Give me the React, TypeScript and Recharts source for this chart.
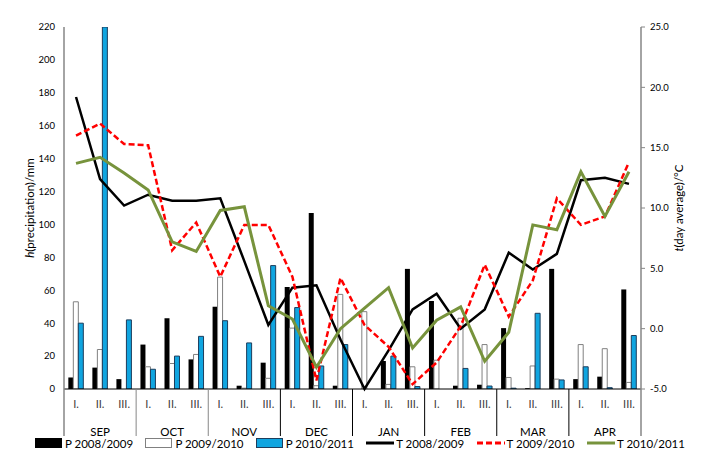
import React from 'react';
import { ComposedChart, Bar, Line, XAxis, YAxis, Legend } from 'recharts';

const months = ['SEP', 'OCT', 'NOV', 'DEC', 'JAN', 'FEB', 'MAR', 'APR'];
const decades = ['I.', 'II.', 'III.'];

const p0809 = [7, 13, 6, 27, 43, 18, 50, 2, 16, 62, 107, 2, 0, 17, 73, 53.5, 2, 2.6, 37, 0.5, 73, 6, 7.5, 60.5];
const p0910 = [53, 24, 0, 13.5, 15.5, 21, 68, 0.5, 6.5, 37, 2, 57.5, 47, 2.8, 13.5, 17.5, 43, 27, 7, 14, 6, 27, 24.5, 4];
const p1011 = [40, 220, 42, 12, 20, 32, 41.5, 28, 75, 49.5, 14, 27, 0, 20, 1.5, 0, 12.5, 1.8, 0.5, 46, 5.5, 13.5, 0.8, 32.5];

const t0809 = [19.2, 12.4, 10.2, 11.1, 10.6, 10.6, 10.8, 5.6, 0.3, 3.4, 3.6, -0.9, -5, -1.8, 1.6, 2.9, 0, 1.6, 6.3, 4.9, 6.2, 12.3, 12.5, 12.0];
const t0910 = [16.0, 17.0, 15.3, 15.2, 6.5, 8.8, 4.3, 8.6, 8.6, 4.3, -4.3, 4.2, 0.3, -1.5, -4.6, -2.8, 0.2, 5.3, 1.0, 4.0, 10.8, 8.6, 9.3, 13.8];
const t1011 = [13.7, 14.2, 12.9, 11.5, 7.2, 6.4, 9.8, 10.1, 1.9, 0.8, -3.2, 0.0, 1.7, 3.4, -1.6, 0.7, 1.8, -2.7, -0.3, 8.6, 8.2, 13.0, 9.3, 13.0];

const precipTicks = [0, 20, 40, 60, 80, 100, 120, 140, 160, 180, 200, 220];
const tempTicks = [-5, 0, 5, 10, 15, 20, 25];

const data = months.flatMap((m, mi) =>
  decades.map((d, di) => {
    const i = mi * 3 + di;
    return {
      key: m + '-' + d,
      month: m,
      decade: d,
      p0809: p0809[i],
      p0910: p0910[i],
      p1011: p1011[i],
      t0809: t0809[i],
      t0910: t0910[i],
      t1011: t1011[i],
    };
  })
);

const W = 707;
const H = 469;
const LEFT = 64;
const RIGHT = 66;
const BAND = (W - LEFT - RIGHT) / data.length;
const FONT = 'Lato, "Noto Sans", sans-serif';

const legendItems = [
  { label: 'P 2008/2009', kind: 'rect', fill: '#000', stroke: '#000' },
  { label: 'P 2009/2010', kind: 'rect', fill: '#fff', stroke: '#808080' },
  { label: 'P 2010/2011', kind: 'rect', fill: '#10a5e0', stroke: '#1d3d5c' },
  { label: 'T 2008/2009', kind: 'line', stroke: '#000', dash: undefined },
  { label: 'T 2009/2010', kind: 'line', stroke: '#ff0000', dash: '6 3' },
  { label: 'T 2010/2011', kind: 'line', stroke: '#77933c', dash: undefined },
];

const CategoryTick = (props: any) => {
  const { x, y, index } = props;
  const row = data[index];
  const lines = [];
  if (index % 3 === 0) {
    const lx = x - BAND / 2;
    lines.push(
      <line key="l" x1={lx} x2={lx} y1={y} y2={y + 47} stroke={index / 3 < 3 ? '#868686' : '#000'} strokeWidth={index === 0 ? 1.5 : 1} />
    );
  }
  if (index === data.length - 1) {
    const rx = x + BAND / 2;
    lines.push(<line key="r" x1={rx} x2={rx} y1={y} y2={y + 47} stroke="#868686" strokeWidth={1.5} />);
  }
  return (
    <g>
      {lines}
      <text x={x} y={y + 19} textAnchor="middle" fontSize={11} fill="#404040" fontFamily={FONT}>
        {row.decade}
      </text>
      {index % 3 === 1 && (
        <text x={x} y={y + 47} textAnchor="middle" fontSize={11.5} fill="#000" fontFamily={FONT}>
          {row.month}
        </text>
      )}
    </g>
  );
};

const LeftTitle = (props: any) => {
  const { viewBox } = props;
  const cx = viewBox.x + 34;
  const cy = viewBox.y + viewBox.height / 2;
  return (
    <text x={cx} y={cy} transform={`rotate(-90 ${cx} ${cy})`} textAnchor="middle" fontSize={11.5} fontFamily={FONT} fill="#000">
      <tspan fontStyle="italic">h</tspan>(precipitation)/mm
    </text>
  );
};

const RightTitle = (props: any) => {
  const { viewBox } = props;
  const cx = viewBox.x + 42;
  const cy = viewBox.y + viewBox.height / 2;
  return (
    <text x={cx} y={cy} transform={`rotate(-90 ${cx} ${cy})`} textAnchor="middle" fontSize={11.5} fontFamily={FONT} fill="#000">
      <tspan fontStyle="italic">t</tspan>(day average)/°C
    </text>
  );
};

const LegendContent = () => (
  <div style={{ position: 'relative', height: 33, width: W, fontFamily: FONT, fontSize: 11.5 }}>
    {legendItems.map((it, i) => (
      <div key={it.label} style={{ position: 'absolute', left: 35 + i * 110.4, top: 0, display: 'flex', alignItems: 'center', height: 14 }}>
        <svg width={28} height={12} style={{ marginRight: 2 }}>
          {it.kind === 'rect' ? (
            <rect x={0.5} y={1.5} width={26} height={9} fill={it.fill} stroke={it.stroke} strokeWidth={1} />
          ) : (
            <line x1={0} x2={28} y1={6} y2={6} stroke={it.stroke} strokeWidth={3} strokeDasharray={it.dash} />
          )}
        </svg>
        <span style={{ color: '#000', whiteSpace: 'nowrap' }}>{it.label}</span>
      </div>
    ))}
  </div>
);

export default function App() {
  return (
    <div style={{ position: 'absolute', left: 0, top: 0, width: W, height: H, background: '#fff' }}>
      <ComposedChart
        width={W}
        height={H}
        data={data}
        margin={{ top: 27, right: 0, bottom: 0, left: 0 }}
        barCategoryGap="18%"
        barGap={0}
      >
        <XAxis
          dataKey="key"
          interval={0}
          height={47}
          tickLine={false}
          tickSize={0}
          tickMargin={0}
          axisLine={{ stroke: '#000', strokeWidth: 1 }}
          tick={<CategoryTick />}
        />
        <YAxis
          yAxisId="p"
          width={LEFT}
          domain={[0, 220]}
          ticks={precipTicks}
          allowDataOverflow
          tickLine={false}
          tickSize={4}
          tickMargin={5}
          axisLine={{ stroke: '#868686', strokeWidth: 1.5 }}
          tick={{ fontSize: 9.5, fill: '#000', fontFamily: FONT }}
          label={<LeftTitle />}
        />
        <YAxis
          yAxisId="t"
          orientation="right"
          width={RIGHT}
          domain={[-5, 25]}
          ticks={tempTicks}
          tickFormatter={(v: number) => v.toFixed(1)}
          tickLine={{ stroke: '#868686' }}
          tickSize={4}
          tickMargin={5}
          axisLine={{ stroke: '#868686', strokeWidth: 1.5 }}
          tick={{ fontSize: 9.5, fill: '#000', fontFamily: FONT }}
          label={<RightTitle />}
        />
        <Legend verticalAlign="bottom" content={<LegendContent />} />
        <Bar yAxisId="p" dataKey="p0809" name="P 2008/2009" fill="#000" isAnimationActive={false} />
        <Bar yAxisId="p" dataKey="p0910" name="P 2009/2010" fill="#fff" stroke="#808080" strokeWidth={1} isAnimationActive={false} />
        <Bar yAxisId="p" dataKey="p1011" name="P 2010/2011" fill="#10a5e0" stroke="#1d3d5c" strokeWidth={1} isAnimationActive={false} />
        <Line yAxisId="t" type="linear" dataKey="t0809" name="T 2008/2009" stroke="#000" strokeWidth={2.5} dot={false} isAnimationActive={false} />
        <Line yAxisId="t" type="linear" dataKey="t0910" name="T 2009/2010" stroke="#ff0000" strokeWidth={2.5} strokeDasharray="6 3" dot={false} isAnimationActive={false} />
        <Line yAxisId="t" type="linear" dataKey="t1011" name="T 2010/2011" stroke="#77933c" strokeWidth={3} dot={false} isAnimationActive={false} />
      </ComposedChart>
    </div>
  );
}
